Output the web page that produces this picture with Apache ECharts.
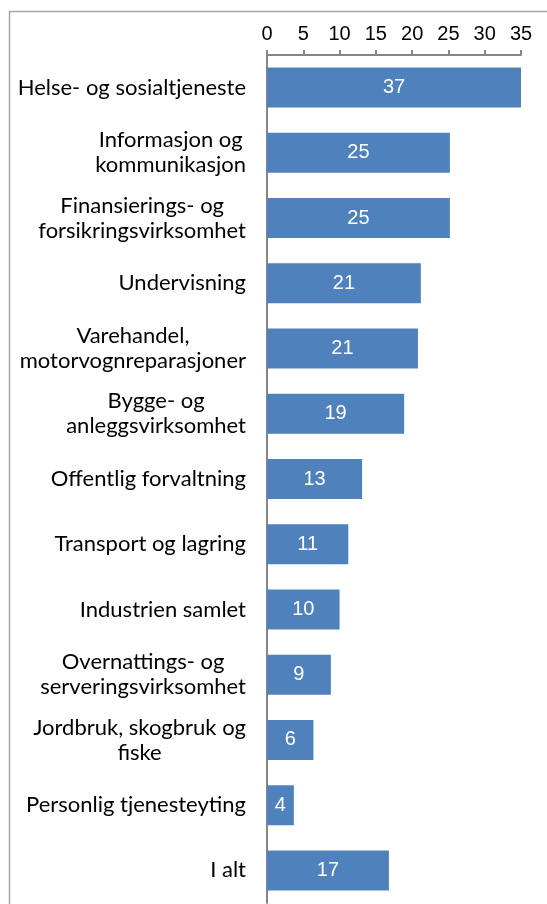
<!DOCTYPE html>
<html>
<head>
<meta charset="utf-8">
<script src="https://cdn.jsdelivr.net/npm/echarts@6/dist/echarts.min.js"></script>
<style>
  html, body { margin: 0; padding: 0; background: #fff; }
  #chart { width: 547px; height: 904px; }
</style>
</head>
<body>
<div id="chart"></div>
<script>
// kategorier og verdier (prosent)
var categories = [
  'Helse- og sosialtjeneste',
  'Informasjon og\nkommunikasjon',
  'Finansierings- og\nforsikringsvirksomhet',
  'Undervisning',
  'Varehandel,\nmotorvognreparasjoner',
  'Bygge- og\nanleggsvirksomhet',
  'Offentlig forvaltning',
  'Transport og lagring',
  'Industrien samlet',
  'Overnattings- og\nserveringsvirksomhet',
  'Jordbruk, skogbruk og\nfiske',
  'Personlig tjenesteyting',
  'I alt'
];
var values = [37, 25.2, 25.2, 21.2, 20.8, 18.9, 13.1, 11.2, 10, 8.8, 6.4, 3.7, 16.8];
var ticks = [0, 5, 10, 15, 20, 25, 30, 35];

var myChart = echarts.init(document.getElementById('chart'));

var option = {
  animation: false,
  graphic: [{
    type: 'rect',
    shape: { x: 9.5, y: 11.5, width: 700, height: 1000 },
    style: { fill: 'none', stroke: '#a6a6a6', lineWidth: 1.5 },
    z: -1
  }],
  grid: { left: 267, right: 26, top: 55, bottom: 1 },
  xAxis: {
    type: 'value',
    position: 'top',
    min: ticks[0],
    max: ticks[ticks.length - 1],
    interval: 5,
    splitLine: { show: false },
    axisLine: { show: true, lineStyle: { color: '#868686', width: 2 } },
    axisTick: { show: true, length: 5, lineStyle: { color: '#868686', width: 2 } },
    axisLabel: { color: '#000', fontSize: 20, fontFamily: 'Liberation Sans', margin: 11 }
  },
  yAxis: {
    type: 'category',
    inverse: true,
    data: categories,
    axisLine: { show: true, lineStyle: { color: '#868686', width: 2 } },
    axisTick: { show: false },
    axisLabel: {
      color: '#000', fontSize: 22, lineHeight: 25, fontFamily: 'Lato',
      margin: 21, align: 'right', interval: 0,
      // hver linje sentreres innenfor blokken, blokken høyrejusteres
      formatter: function (v) {
        return v.split('\n').map(function (l) { return '{c|' + l + '}'; }).join('\n');
      },
      rich: {
        c: { align: 'center', fontSize: 22, lineHeight: 25, fontFamily: 'Lato', color: '#000' }
      }
    }
  },
  series: [{
    type: 'bar',
    data: values,
    barWidth: 40,
    clip: true,
    itemStyle: { color: '#4f81bd' },
    label: {
      show: true,
      position: 'inside',
      color: '#fff',
      fontSize: 20,
      fontFamily: 'Liberation Sans',
      formatter: function (p) { return Math.round(p.value); }
    }
  }]
};

myChart.setOption(option);
</script>
</body>
</html>
